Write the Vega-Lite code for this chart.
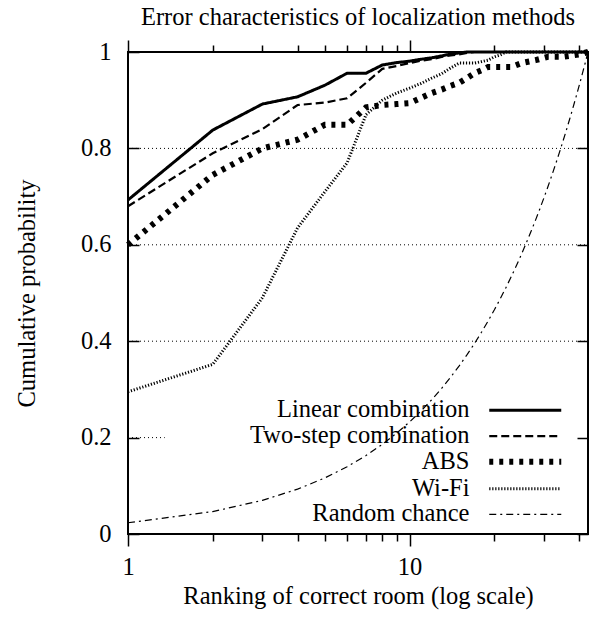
{
  "$schema": "https://vega.github.io/schema/vega-lite/v6.json",
  "width": 460,
  "height": 482,
  "autosize": "none",
  "padding": {"left": 128, "top": 52, "right": 13, "bottom": 90},
  "background": "white",
  "title": {"text": "Error characteristics of localization methods", "font": "Liberation Serif", "fontSize": 24.5, "fontWeight": "normal", "color": "black", "anchor": "middle", "offset": 9},
  "config": {
    "view": {"stroke": "black", "strokeWidth": 2},
    "axis": {"tickColor": "black", "tickWidth": 1.5, "domain": false, "grid": false},
    "legend": {"labelFont": "Liberation Serif", "labelFontSize": 24.5, "labelColor": "black", "labelLimit": 400}
  },
  "layer": [
    {
      "data": {"values": [
        {"y": 0.4, "x1": 1, "x2": 43},
        {"y": 0.6, "x1": 1, "x2": 43},
        {"y": 0.8, "x1": 1, "x2": 43},
        {"y": 0.2, "x1": 1, "x2": 1.35}
      ]},
      "mark": {"type": "rule", "color": "black", "strokeWidth": 1, "strokeDash": [1, 3]},
      "encoding": {
        "x": {"field": "x1", "type": "quantitative", "scale": {"type": "log", "domain": [1, 43]},
          "axis": {"orient": "top", "values": [1,2,3,4,5,6,7,8,9,10,20,30,40], "labels": false, "title": null, "domain": false, "grid": false, "tickColor": "black", "tickWidth": 1.5,
            "tickSize": {"condition": {"test": "datum.value == 1 || datum.value == 10", "value": 12}, "value": 7}}},
        "x2": {"field": "x2"},
        "y": {"field": "y", "type": "quantitative", "scale": {"domain": [0, 1]},
          "axis": {"orient": "right", "values": [0, 0.2, 0.4, 0.6, 0.8, 1], "labels": false, "title": null, "domain": false, "grid": false, "tickColor": "black", "tickWidth": 1.5, "tickSize": -11}}
      }
    },
    {
      "data": {"values": [
        {"series": "Linear combination", "rank": 1, "p": 0.693},
        {"series": "Linear combination", "rank": 2, "p": 0.838},
        {"series": "Linear combination", "rank": 3, "p": 0.892},
        {"series": "Linear combination", "rank": 4, "p": 0.907},
        {"series": "Linear combination", "rank": 5, "p": 0.931},
        {"series": "Linear combination", "rank": 6, "p": 0.956},
        {"series": "Linear combination", "rank": 7, "p": 0.956},
        {"series": "Linear combination", "rank": 8, "p": 0.973},
        {"series": "Linear combination", "rank": 9, "p": 0.978},
        {"series": "Linear combination", "rank": 10, "p": 0.981},
        {"series": "Linear combination", "rank": 11, "p": 0.985},
        {"series": "Linear combination", "rank": 12, "p": 0.988},
        {"series": "Linear combination", "rank": 13, "p": 0.992},
        {"series": "Linear combination", "rank": 14, "p": 0.996},
        {"series": "Linear combination", "rank": 15, "p": 0.998},
        {"series": "Linear combination", "rank": 16, "p": 1.0},
        {"series": "Linear combination", "rank": 43, "p": 1.0},
        {"series": "Two-step combination", "rank": 1, "p": 0.68},
        {"series": "Two-step combination", "rank": 2, "p": 0.79},
        {"series": "Two-step combination", "rank": 3, "p": 0.84},
        {"series": "Two-step combination", "rank": 4, "p": 0.89},
        {"series": "Two-step combination", "rank": 5, "p": 0.895},
        {"series": "Two-step combination", "rank": 6, "p": 0.904},
        {"series": "Two-step combination", "rank": 7, "p": 0.936},
        {"series": "Two-step combination", "rank": 8, "p": 0.965},
        {"series": "Two-step combination", "rank": 9, "p": 0.971},
        {"series": "Two-step combination", "rank": 10, "p": 0.977},
        {"series": "Two-step combination", "rank": 11, "p": 0.982},
        {"series": "Two-step combination", "rank": 12, "p": 0.985},
        {"series": "Two-step combination", "rank": 13, "p": 0.99},
        {"series": "Two-step combination", "rank": 14, "p": 0.993},
        {"series": "Two-step combination", "rank": 15, "p": 0.995},
        {"series": "Two-step combination", "rank": 16, "p": 0.998},
        {"series": "Two-step combination", "rank": 17, "p": 1.0},
        {"series": "Two-step combination", "rank": 43, "p": 1.0},
        {"series": "ABS", "rank": 1, "p": 0.6},
        {"series": "ABS", "rank": 2, "p": 0.745},
        {"series": "ABS", "rank": 3, "p": 0.8},
        {"series": "ABS", "rank": 4, "p": 0.818},
        {"series": "ABS", "rank": 5, "p": 0.849},
        {"series": "ABS", "rank": 6, "p": 0.849},
        {"series": "ABS", "rank": 7, "p": 0.885},
        {"series": "ABS", "rank": 8, "p": 0.89},
        {"series": "ABS", "rank": 9, "p": 0.892},
        {"series": "ABS", "rank": 10, "p": 0.894},
        {"series": "ABS", "rank": 11, "p": 0.905},
        {"series": "ABS", "rank": 12, "p": 0.915},
        {"series": "ABS", "rank": 13, "p": 0.922},
        {"series": "ABS", "rank": 14, "p": 0.93},
        {"series": "ABS", "rank": 15, "p": 0.936},
        {"series": "ABS", "rank": 16, "p": 0.946},
        {"series": "ABS", "rank": 17, "p": 0.956},
        {"series": "ABS", "rank": 18, "p": 0.962},
        {"series": "ABS", "rank": 19, "p": 0.969},
        {"series": "ABS", "rank": 23, "p": 0.969},
        {"series": "ABS", "rank": 25, "p": 0.977},
        {"series": "ABS", "rank": 28, "p": 0.983},
        {"series": "ABS", "rank": 31, "p": 0.99},
        {"series": "ABS", "rank": 35, "p": 0.99},
        {"series": "ABS", "rank": 40, "p": 0.995},
        {"series": "ABS", "rank": 43, "p": 1.0},
        {"series": "Wi-Fi", "rank": 1, "p": 0.295},
        {"series": "Wi-Fi", "rank": 2, "p": 0.352},
        {"series": "Wi-Fi", "rank": 3, "p": 0.49},
        {"series": "Wi-Fi", "rank": 4, "p": 0.635},
        {"series": "Wi-Fi", "rank": 5, "p": 0.71},
        {"series": "Wi-Fi", "rank": 6, "p": 0.77},
        {"series": "Wi-Fi", "rank": 7, "p": 0.87},
        {"series": "Wi-Fi", "rank": 8, "p": 0.9},
        {"series": "Wi-Fi", "rank": 9, "p": 0.915},
        {"series": "Wi-Fi", "rank": 10, "p": 0.925},
        {"series": "Wi-Fi", "rank": 11, "p": 0.935},
        {"series": "Wi-Fi", "rank": 12, "p": 0.946},
        {"series": "Wi-Fi", "rank": 13, "p": 0.955},
        {"series": "Wi-Fi", "rank": 14, "p": 0.967},
        {"series": "Wi-Fi", "rank": 15, "p": 0.977},
        {"series": "Wi-Fi", "rank": 17, "p": 0.977},
        {"series": "Wi-Fi", "rank": 18, "p": 0.98},
        {"series": "Wi-Fi", "rank": 19, "p": 0.983},
        {"series": "Wi-Fi", "rank": 20, "p": 0.99},
        {"series": "Wi-Fi", "rank": 21, "p": 0.994},
        {"series": "Wi-Fi", "rank": 22, "p": 1.0},
        {"series": "Wi-Fi", "rank": 43, "p": 1.0},
        {"series": "Random chance", "rank": 1, "p": 0.0233},
        {"series": "Random chance", "rank": 2, "p": 0.0465},
        {"series": "Random chance", "rank": 3, "p": 0.0698},
        {"series": "Random chance", "rank": 4, "p": 0.093},
        {"series": "Random chance", "rank": 5, "p": 0.1163},
        {"series": "Random chance", "rank": 6, "p": 0.1395},
        {"series": "Random chance", "rank": 7, "p": 0.1628},
        {"series": "Random chance", "rank": 8, "p": 0.186},
        {"series": "Random chance", "rank": 9, "p": 0.2093},
        {"series": "Random chance", "rank": 10, "p": 0.2326},
        {"series": "Random chance", "rank": 11, "p": 0.2558},
        {"series": "Random chance", "rank": 12, "p": 0.2791},
        {"series": "Random chance", "rank": 13, "p": 0.3023},
        {"series": "Random chance", "rank": 14, "p": 0.3256},
        {"series": "Random chance", "rank": 15, "p": 0.3488},
        {"series": "Random chance", "rank": 16, "p": 0.3721},
        {"series": "Random chance", "rank": 17, "p": 0.3953},
        {"series": "Random chance", "rank": 18, "p": 0.4186},
        {"series": "Random chance", "rank": 19, "p": 0.4419},
        {"series": "Random chance", "rank": 20, "p": 0.4651},
        {"series": "Random chance", "rank": 21, "p": 0.4884},
        {"series": "Random chance", "rank": 22, "p": 0.5116},
        {"series": "Random chance", "rank": 23, "p": 0.5349},
        {"series": "Random chance", "rank": 24, "p": 0.5581},
        {"series": "Random chance", "rank": 25, "p": 0.5814},
        {"series": "Random chance", "rank": 26, "p": 0.6047},
        {"series": "Random chance", "rank": 27, "p": 0.6279},
        {"series": "Random chance", "rank": 28, "p": 0.6512},
        {"series": "Random chance", "rank": 29, "p": 0.6744},
        {"series": "Random chance", "rank": 30, "p": 0.6977},
        {"series": "Random chance", "rank": 31, "p": 0.7209},
        {"series": "Random chance", "rank": 32, "p": 0.7442},
        {"series": "Random chance", "rank": 33, "p": 0.7674},
        {"series": "Random chance", "rank": 34, "p": 0.7907},
        {"series": "Random chance", "rank": 35, "p": 0.814},
        {"series": "Random chance", "rank": 36, "p": 0.8372},
        {"series": "Random chance", "rank": 37, "p": 0.8605},
        {"series": "Random chance", "rank": 38, "p": 0.8837},
        {"series": "Random chance", "rank": 39, "p": 0.907},
        {"series": "Random chance", "rank": 40, "p": 0.9302},
        {"series": "Random chance", "rank": 41, "p": 0.9535},
        {"series": "Random chance", "rank": 42, "p": 0.9767},
        {"series": "Random chance", "rank": 43, "p": 1.0}
      ]},
      "mark": {"type": "line", "color": "black", "strokeCap": "butt", "strokeJoin": "miter"},
      "encoding": {
        "x": {"field": "rank", "type": "quantitative", "scale": {"type": "log", "domain": [1, 43]},
          "axis": {"orient": "bottom", "values": [1,2,3,4,5,6,7,8,9,10,20,30,40], "format": "d",
            "labelExpr": "datum.value == 1 || datum.value == 10 ? datum.label : ''",
            "domain": false, "grid": false, "tickColor": "black", "tickWidth": 1.5,
            "tickSize": {"condition": {"test": "datum.value == 1 || datum.value == 10", "value": 12}, "value": 7},
            "labelFont": "Liberation Serif", "labelFontSize": 24.5, "labelColor": "black",
            "labelPadding": 9, "labelFlush": false,
            "title": "Ranking of correct room (log scale)", "titleFont": "Liberation Serif", "titleFontSize": 24.5, "titleFontWeight": "normal", "titleColor": "black", "titlePadding": 6}},
        "y": {"field": "p", "type": "quantitative", "scale": {"domain": [0, 1]},
          "axis": {"orient": "left", "values": [0, 0.2, 0.4, 0.6, 0.8, 1], "format": ".1~f",
            "domain": false, "grid": false, "tickColor": "black", "tickWidth": 1.5, "tickSize": -11,
            "labelFont": "Liberation Serif", "labelFontSize": 24.5, "labelColor": "black",
            "labelPadding": 28, "labelFlush": false,
            "title": "Cumulative probability", "titleFont": "Liberation Serif", "titleFontSize": 24.5, "titleFontWeight": "normal", "titleColor": "black", "titlePadding": 41}},
        "strokeDash": {"field": "series", "type": "nominal",
          "scale": {"domain": ["Linear combination", "Two-step combination", "ABS", "Wi-Fi", "Random chance"],
            "range": [[1, 0], [8, 4], [4, 6], [1.2, 1.8], [7, 4, 2, 4]]},
          "legend": {"orient": "none", "legendX": 385, "legendY": 346, "title": null, "symbolType": "M-6,0H6", "symbolSize": 144,
            "symbolStrokeColor": "black", "symbolFillColor": "transparent", "labelAlign": "right", "labelOffset": -68, "padding": 0, "rowPadding": 0.8}},
        "strokeWidth": {"field": "series", "type": "nominal",
          "scale": {"type": "ordinal", "domain": ["Linear combination", "Two-step combination", "ABS", "Wi-Fi", "Random chance"],
            "range": [3, 2.2, 6, 3, 1.2]}}
      }
    }
  ],
  "resolve": {"axis": {"x": "independent", "y": "independent"}}
}
